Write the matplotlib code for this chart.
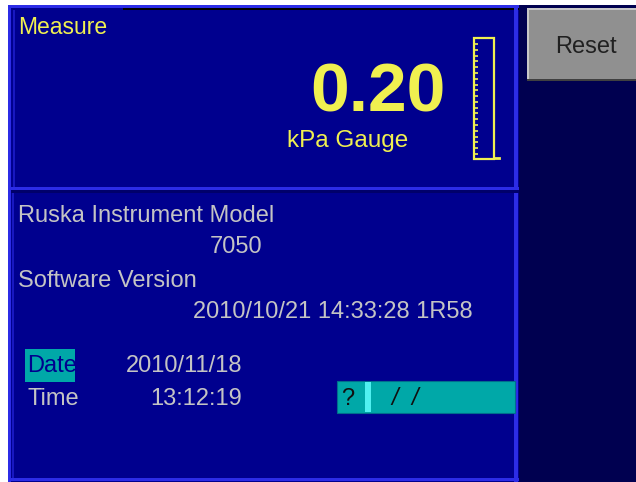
import matplotlib.pyplot as plt
import numpy as np
from matplotlib.patches import Rectangle

# screen contents
title = 'Measure'
reading = '0.20'
units = 'kPa Gauge'
info_labels = ['Ruska Instrument Model', 'Software Version']
info_values = ['7050', '2010/10/21 14:33:28 1R58']
clock_labels = ['Date', 'Time']
clock_values = ['2010/11/18', '13:12:19']
entry_text = ['?', '/', '/']
button_label = 'Reset'
bar_ticks = 20

navy = '#00008E'
dark = '#000050'
edge = '#2C2CE6'
yellow = '#F0F050'
grey_txt = '#C4C4C4'
cyan = '#00A8A8'

fig = plt.figure(figsize=(6.36, 4.82), dpi=100)
fig.patch.set_facecolor('white')
ax = fig.add_axes([0, 0, 1, 1])
ax.set_xlim(0, 636)
ax.set_ylim(482, 0)
ax.axis('off')

def box(x0, y0, x1, y1, fc, ec='none', lw=0, z=1):
    ax.add_patch(Rectangle((x0, y0), x1 - x0, y1 - y0, facecolor=fc,
                           edgecolor=ec, linewidth=lw, zorder=z))

# backgrounds
box(8, 5, 636, 482, dark)
box(8, 5, 519, 482, navy)
# top panel frame
box(8, 5, 519, 8, edge, z=2)
box(8, 5, 11, 190, edge, z=2)
box(123, 8, 519, 10, 'black', z=2)
box(11, 187, 519, 190, edge, z=2)
box(514, 8, 518, 190, edge, z=2)
box(13, 10, 15, 187, '#1818C0', z=2)
# bottom panel frame
box(8, 190, 11, 482, edge, z=2)
box(11, 190, 519, 193, '#00006A', z=2)
box(12, 193, 14, 479, '#1818C0', z=2)
box(514, 193, 518, 482, edge, z=2)
box(8, 478, 519, 481, edge, z=2)

fn = ['Liberation Sans', 'DejaVu Sans']

# measure panel
ax.text(18, 34, title, color=yellow, fontsize=16.5, family=fn, va='baseline', zorder=5)
ax.text(446, 112, reading, color=yellow, fontsize=50, family=fn, fontweight='bold',
        ha='right', va='baseline', zorder=5)
ax.text(287, 147, units, color=yellow, fontsize=17.5, family=fn, va='baseline', zorder=5)

# bar graph
box(474, 38, 494, 159, 'none', ec=yellow, lw=1.6, z=5)
ax.plot([494, 499], [158, 158], color=yellow, lw=2, zorder=5)
ty = np.linspace(44, 154, bar_ticks)
ax.hlines(ty, 474, 478, color=yellow, lw=1.2, zorder=5)

# info panel
ax.text(18, 222, info_labels[0], color=grey_txt, fontsize=17, family=fn, va='baseline', zorder=5)
ax.text(262, 253, info_values[0], color=grey_txt, fontsize=17, family=fn,
        ha='right', va='baseline', zorder=5)
ax.text(18, 287, info_labels[1], color=grey_txt, fontsize=17, family=fn, va='baseline', zorder=5)
ax.text(473, 318, info_values[1], color=grey_txt, fontsize=17, family=fn,
        ha='right', va='baseline', zorder=5)

# date / time
box(25, 349, 75, 382, cyan, z=3)
ax.text(27, 372, clock_labels[0], color=navy, fontsize=17, family=fn, va='baseline', zorder=5)
ax.text(242, 372, clock_values[0], color=grey_txt, fontsize=17, family=fn,
        ha='right', va='baseline', zorder=5)
ax.text(27, 405, clock_labels[1], color=grey_txt, fontsize=17, family=fn, va='baseline', zorder=5)
ax.text(242, 405, clock_values[1], color=grey_txt, fontsize=17, family=fn,
        ha='right', va='baseline', zorder=5)

# entry field
box(337, 381, 515, 413, cyan, ec='#006E8C', lw=0.8, z=3)
box(365, 382, 371, 412, '#50F0F0', z=4)
ax.text(341, 405, entry_text[0], color='#101010', fontsize=17, family=fn, va='baseline', zorder=5)
for xs, s in zip([391, 411], entry_text[1:]):
    ax.text(xs, 405, s, color='#101010', fontsize=17, family=fn,
            style='italic', va='baseline', zorder=5)

# reset button
box(527, 8, 636, 81, '#909090', z=3)
box(527, 8, 636, 10, '#C8C8C8', z=4)
box(527, 8, 529, 81, '#C8C8C8', z=4)
box(527, 79, 636, 81, '#404040', z=4)
ax.text(586, 53, button_label, color='#202020', fontsize=17, family=fn,
        ha='center', va='baseline', zorder=5)

fig.savefig('out.png', dpi=100, facecolor='white')
